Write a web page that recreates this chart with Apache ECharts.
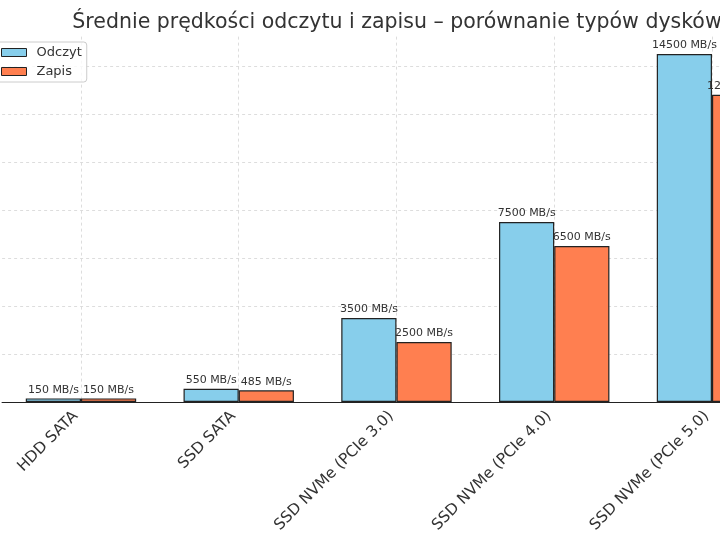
<!DOCTYPE html>
<html>
<head>
<meta charset="utf-8">
<script src="https://cdn.jsdelivr.net/npm/echarts@6/dist/echarts.min.js"></script>
<style>html,body{margin:0;padding:0;background:#fff;overflow:hidden;width:720px;height:540px;}#c{width:800px;height:540px;}</style>
</head>
<body>
<div id="c"></div>
<script>
const categories = ['HDD SATA', 'SSD SATA', 'SSD NVMe (PCIe 3.0)', 'SSD NVMe (PCIe 4.0)', 'SSD NVMe (PCIe 5.0)'];
const readSpeeds = [150, 550, 3500, 7500, 14500];
const writeSpeeds = [150, 485, 2500, 6500, 12800];
const seriesNames = ['Odczyt', 'Zapis'];
const titleText = 'Średnie prędkości odczytu i zapisu – porównanie typów dysków';

const font = 'DejaVu Sans';
const chart = echarts.init(document.getElementById('c'), null, {renderer: 'canvas'});
const labelCfg = {
  show: true, position: 'top', distance: 3,
  fontFamily: font, fontSize: 11, color: '#333',
  formatter: p => p.value + ' MB/s'
};
chart.setOption({
  animation: false,
  backgroundColor: '#fff',
  title: {
    text: titleText, left: 392, top: 7, textAlign: 'center',
    textStyle: {fontFamily: font, fontSize: 20.5, fontWeight: 'normal', color: '#333'}
  },
  legend: {
    orient: 'vertical', left: -4, top: 42,
    padding: [4, 5, 4, 5], itemGap: 6, itemWidth: 25, itemHeight: 8,
    icon: 'rect',
    borderColor: '#ccc', borderWidth: 1, borderRadius: 3, backgroundColor: 'rgba(255,255,255,0.8)',
    textStyle: {fontFamily: font, fontSize: 13, color: '#333', padding: [0, 0, 0, 5]},
    itemStyle: {borderColor: '#222', borderWidth: 1},
    data: seriesNames
  },
  grid: {left: 2.1, width: 788.75, top: 36.6, bottom: 138, containLabel: false, outerBoundsMode: 'none'},
  xAxis: {
    type: 'category', data: categories,
    axisLine: {show: true, lineStyle: {color: '#222', width: 1.2}},
    axisTick: {show: false},
    axisLabel: {rotate: 45, fontFamily: font, fontSize: 15.4, color: '#333', margin: 17,
                align: 'right', verticalAlign: 'bottom', interval: 0},
    splitLine: {show: true, alignWithLabel: true, lineStyle: {type: [3, 3], color: '#d5d5d5', width: 0.8}}
  },
  yAxis: {
    type: 'value', min: 0, max: 15225, interval: 2000,
    axisLabel: {show: false}, axisLine: {show: false}, axisTick: {show: false},
    splitLine: {show: true, showMaxLine: false, lineStyle: {type: [3, 3], color: '#d5d5d5', width: 0.8}}
  },
  series: [
    {name: seriesNames[0], type: 'bar', data: readSpeeds, barWidth: 55.2, barGap: '0%',
     itemStyle: {color: '#87CEEB', borderColor: '#222', borderWidth: 1.2}, label: labelCfg},
    {name: seriesNames[1], type: 'bar', data: writeSpeeds, barWidth: 55.2, barGap: '0%',
     itemStyle: {color: '#FF7F50', borderColor: '#222', borderWidth: 1.2}, label: labelCfg}
  ]
});
</script>
</body>
</html>
